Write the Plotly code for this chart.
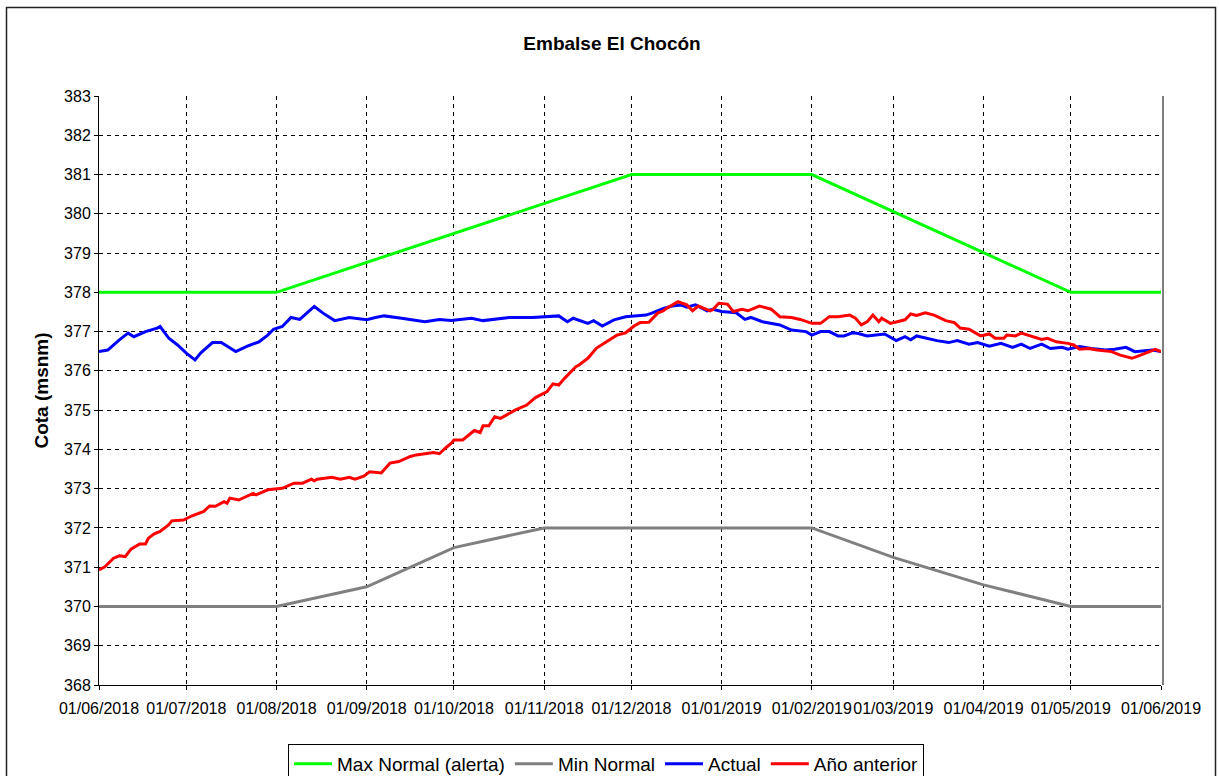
import plotly.graph_objects as go

# ---------------- data ----------------
max_dates = ["2018-06-01", "2018-08-01", "2018-12-01", "2019-02-01", "2019-05-01", "2019-06-01"]
max_vals = [378, 378, 381, 381, 378, 378]

min_dates = ["2018-06-01", "2018-08-01", "2018-09-01", "2018-10-01", "2018-11-01",
             "2019-02-01", "2019-03-01", "2019-04-01", "2019-05-01", "2019-06-01"]
min_vals = [370, 370, 370.5, 371.5, 372, 372, 371.25, 370.55, 370, 370]

actual_dates = [
    "2018-06-01", "2018-06-04", "2018-06-08", "2018-06-11", "2018-06-13", "2018-06-17", "2018-06-21", "2018-06-22",
    "2018-06-25", "2018-06-28", "2018-07-01", "2018-07-04", "2018-07-06", "2018-07-10", "2018-07-13", "2018-07-18",
    "2018-07-22", "2018-07-26", "2018-07-29", "2018-07-31", "2018-08-03", "2018-08-06", "2018-08-09", "2018-08-14",
    "2018-08-17", "2018-08-21", "2018-08-26", "2018-09-01", "2018-09-04", "2018-09-07", "2018-09-13", "2018-09-21",
    "2018-09-26", "2018-09-30", "2018-10-07", "2018-10-11", "2018-10-20", "2018-10-28", "2018-11-06", "2018-11-09",
    "2018-11-11", "2018-11-16", "2018-11-18", "2018-11-21", "2018-11-25", "2018-11-29", "2018-12-02", "2018-12-06",
    "2018-12-08", "2018-12-12", "2018-12-15", "2018-12-18", "2018-12-20", "2018-12-23", "2018-12-27", "2018-12-29",
    "2019-01-01", "2019-01-06", "2019-01-09", "2019-01-11", "2019-01-15", "2019-01-21", "2019-01-25", "2019-01-30",
    "2019-02-01", "2019-02-04", "2019-02-07", "2019-02-10", "2019-02-12", "2019-02-15", "2019-02-17", "2019-02-20",
    "2019-02-26", "2019-03-02", "2019-03-05", "2019-03-07", "2019-03-09", "2019-03-13", "2019-03-16", "2019-03-20",
    "2019-03-23", "2019-03-27", "2019-03-30", "2019-04-03", "2019-04-07", "2019-04-11", "2019-04-14", "2019-04-17",
    "2019-04-21", "2019-04-24", "2019-04-28", "2019-04-30", "2019-05-04", "2019-05-08", "2019-05-13", "2019-05-16",
    "2019-05-20", "2019-05-23", "2019-05-27", "2019-05-29", "2019-06-01"]
actual_vals = [
    376.49, 376.53, 376.79, 376.96, 376.87, 377.00, 377.09, 377.13,
    376.83, 376.66, 376.45, 376.28, 376.46, 376.72, 376.72, 376.49,
    376.63, 376.74, 376.91, 377.06, 377.13, 377.36, 377.31, 377.64,
    377.47, 377.28, 377.36, 377.30, 377.36, 377.40, 377.34, 377.25,
    377.31, 377.28, 377.34, 377.28, 377.36, 377.36, 377.40, 377.25,
    377.34, 377.21, 377.28, 377.14, 377.30, 377.38, 377.40, 377.42,
    377.47, 377.59, 377.65, 377.68, 377.62, 377.68, 377.53, 377.57,
    377.51, 377.48, 377.31, 377.36, 377.25, 377.17, 377.04, 377.00,
    376.91, 377.00, 377.00, 376.89, 376.89, 376.97, 376.95, 376.89,
    376.94, 376.77, 376.87, 376.79, 376.89, 376.82, 376.77, 376.72,
    376.77, 376.68, 376.72, 376.63, 376.70, 376.60, 376.68, 376.57,
    376.68, 376.57, 376.60, 376.55, 376.62, 376.57, 376.53, 376.55,
    376.60, 376.49, 376.51, 376.53, 376.49]

prev_dates = [
    "2018-06-01", "2018-06-03", "2018-06-06", "2018-06-08", "2018-06-10", "2018-06-12", "2018-06-15", "2018-06-17",
    "2018-06-18", "2018-06-20", "2018-06-22", "2018-06-25", "2018-06-26", "2018-06-30", "2018-07-03", "2018-07-07",
    "2018-07-09", "2018-07-11", "2018-07-14", "2018-07-15", "2018-07-16", "2018-07-19", "2018-07-24", "2018-07-25",
    "2018-07-29", "2018-08-03", "2018-08-07", "2018-08-10", "2018-08-13", "2018-08-14", "2018-08-15", "2018-08-20",
    "2018-08-23", "2018-08-26", "2018-08-28", "2018-08-31", "2018-09-02", "2018-09-05", "2018-09-06", "2018-09-09",
    "2018-09-12", "2018-09-16", "2018-09-18", "2018-09-24", "2018-09-26", "2018-09-28", "2018-09-30", "2018-10-01",
    "2018-10-04", "2018-10-08", "2018-10-10", "2018-10-11", "2018-10-13", "2018-10-15", "2018-10-17", "2018-10-22",
    "2018-10-26", "2018-10-29", "2018-11-02", "2018-11-04", "2018-11-06", "2018-11-08", "2018-11-12", "2018-11-13",
    "2018-11-16", "2018-11-19", "2018-11-22", "2018-11-26", "2018-11-29", "2018-12-02", "2018-12-04", "2018-12-07",
    "2018-12-10", "2018-12-12", "2018-12-13", "2018-12-15", "2018-12-17", "2018-12-20", "2018-12-22", "2018-12-24",
    "2018-12-28", "2018-12-29", "2018-12-31", "2019-01-03", "2019-01-05", "2019-01-08", "2019-01-10", "2019-01-14",
    "2019-01-18", "2019-01-21", "2019-01-25", "2019-01-28", "2019-02-01", "2019-02-04", "2019-02-07", "2019-02-10",
    "2019-02-14", "2019-02-16", "2019-02-18", "2019-02-20", "2019-02-22", "2019-02-24", "2019-02-25", "2019-02-28",
    "2019-03-03", "2019-03-05", "2019-03-07", "2019-03-09", "2019-03-12", "2019-03-15", "2019-03-19", "2019-03-22",
    "2019-03-24", "2019-03-27", "2019-03-31", "2019-04-03", "2019-04-05", "2019-04-08", "2019-04-09", "2019-04-12",
    "2019-04-14", "2019-04-17", "2019-04-21", "2019-04-23", "2019-04-26", "2019-04-30", "2019-05-02", "2019-05-04",
    "2019-05-07", "2019-05-10", "2019-05-15", "2019-05-18", "2019-05-22", "2019-05-25", "2019-05-30", "2019-06-01"]
prev_vals = [
    370.93, 371.01, 371.23, 371.29, 371.27, 371.46, 371.59, 371.59,
    371.74, 371.85, 371.91, 372.08, 372.18, 372.20, 372.31, 372.42,
    372.56, 372.55, 372.67, 372.63, 372.76, 372.71, 372.88, 372.84,
    372.97, 373.01, 373.14, 373.14, 373.24, 373.20, 373.24, 373.29,
    373.24, 373.29, 373.24, 373.32, 373.43, 373.42, 373.40, 373.65,
    373.69, 373.82, 373.86, 373.92, 373.89, 374.03, 374.15, 374.24,
    374.24, 374.48, 374.43, 374.60, 374.60, 374.83, 374.79, 375.00,
    375.13, 375.32, 375.47, 375.67, 375.64, 375.81, 376.11, 376.15,
    376.32, 376.58, 376.72, 376.91, 376.97, 377.15, 377.23, 377.24,
    377.47, 377.53, 377.59, 377.68, 377.76, 377.68, 377.53, 377.65,
    377.53, 377.56, 377.72, 377.70, 377.51, 377.57, 377.53, 377.65,
    377.57, 377.38, 377.36, 377.31, 377.21, 377.21, 377.38, 377.38,
    377.42, 377.34, 377.17, 377.25, 377.42, 377.25, 377.34, 377.21,
    377.27, 377.30, 377.45, 377.41, 377.48, 377.42, 377.28, 377.23,
    377.09, 377.06, 376.89, 376.94, 376.83, 376.83, 376.91, 376.89,
    376.96, 376.89, 376.80, 376.83, 376.74, 376.70, 376.66, 376.55,
    376.57, 376.53, 376.49, 376.40, 376.32, 376.40, 376.55, 376.49]

series_names = ["Max Normal (alerta)", "Min Normal", "Actual", "Año anterior"]
series_colors = ["#00FF00", "#808080", "#0000FF", "#FF0000"]

title_text = "Embalse El Chocón"
y_title = "Cota (msnm)"
y_ticks = list(range(368, 384))
x_ticks = ["2018-06-01", "2018-07-01", "2018-08-01", "2018-09-01", "2018-10-01", "2018-11-01",
           "2018-12-01", "2019-01-01", "2019-02-01", "2019-03-01", "2019-04-01", "2019-05-01", "2019-06-01"]

# ---------------- figure ----------------
FONT = "Liberation Sans, Arial, sans-serif"
fig = go.Figure()
all_series = [(max_dates, max_vals), (min_dates, min_vals), (actual_dates, actual_vals), (prev_dates, prev_vals)]
for (xs, ys), name, col in zip(all_series, series_names, series_colors):
    fig.add_trace(go.Scatter(x=xs, y=ys, mode="lines", name=name,
                             line=dict(color=col, width=3)))

W, H = 1219, 776
PL, PR, PT, PB = 99, 1161, 96, 685          # plot area in page pixels
L, T = PL, PT
R, B = W - PR, H - PB
pw, ph = W - L - R, H - T - B

def px_x(x):
    return (x - PL) / pw

def px_y(y):
    return (PB - y) / ph

fig.update_layout(
    width=W, height=H,
    margin=dict(l=L, r=R, t=T, b=B, autoexpand=False),
    paper_bgcolor="white", plot_bgcolor="white",
    font=dict(family=FONT, color="black", size=16),
    title=dict(text="<b>" + title_text + "</b>", x=612 / W, xanchor="center",
               xref="container", y=1 - 43 / H, yref="container", yanchor="middle",
               font=dict(size=19, family=FONT, color="black")),
    showlegend=True,
    legend=dict(orientation="h", x=px_x(606), xanchor="center", y=px_y(744), yanchor="top",
                bordercolor="black", borderwidth=1, bgcolor="white",
                font=dict(size=19, family=FONT), itemwidth=38, tracegroupgap=0),
    xaxis=dict(type="date", range=["2018-06-01", "2019-06-01"],
               tickvals=x_ticks, tickformat="%d/%m/%Y", tickangle=0, automargin=False,
               ticklabelstandoff=5,
               showgrid=True, gridcolor="black", gridwidth=1, griddash="4px,4px",
               showline=True, linecolor="black", linewidth=1,
               ticks="outside", ticklen=4, tickcolor="black",
               tickfont=dict(size=16, family=FONT), zeroline=False),
    yaxis=dict(range=[368, 383], tickvals=y_ticks, automargin=False,
               showgrid=True, gridcolor="black", gridwidth=1, griddash="4px,4px",
               showline=True, linecolor="black", linewidth=1,
               ticks="outside", ticklen=4, tickcolor="black",
               tickfont=dict(size=16, family=FONT), zeroline=False,
               title=dict(text="<b>" + y_title + "</b>", font=dict(size=19, family=FONT), standoff=10)),
    shapes=[
        dict(type="line", xref="paper", yref="paper", x0=px_x(1163), x1=px_x(1163), y0=0, y1=1,
             line=dict(color="#808080", width=2), layer="above"),
        dict(type="rect", xref="paper", yref="paper", x0=px_x(6.5), x1=px_x(1215.5), y0=px_y(7.5), y1=px_y(790),
             line=dict(color="#222222", width=1.5), layer="below"),
    ],
)

fig.write_html(
    "out.html",
    config={"displayModeBar": False},
    post_script="document.body.style.margin='0px';document.body.style.padding='0px';"
                "document.documentElement.style.overflow='hidden';",
)
